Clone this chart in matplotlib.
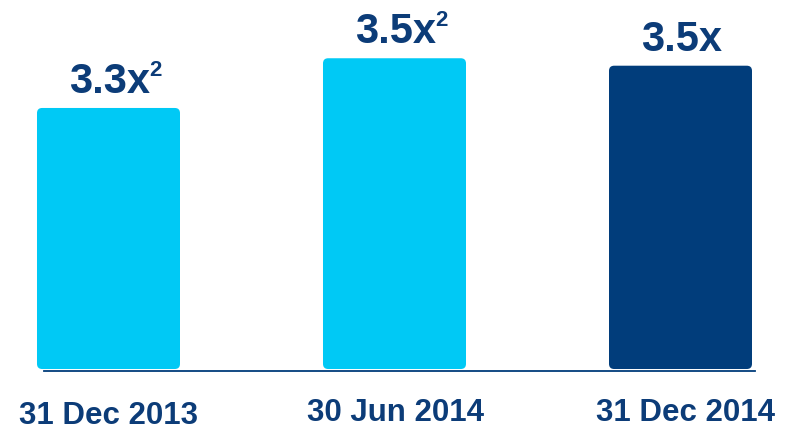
"""
Leverage multiple bar chart: three period-end bars with value labels.
"""

import matplotlib.pyplot as plt
from matplotlib.patches import FancyBboxPatch


PERIODS = ["31 Dec 2013", "30 Jun 2014", "31 Dec 2014"]
VALUE_LABELS = ["3.3x", "3.5x", "3.5x"]
FOOTNOTES = ["2", "2", ""]
BAR_HEIGHTS = [3.30, 3.50, 3.47]

LIGHT = "#00C9F5"
DARK = "#013D7B"
TEXT = "#0C3C78"
BAR_COLORS = [LIGHT, LIGHT, DARK]

plt.rcParams["font.family"] = ["Liberation Sans", "DejaVu Sans"]


def main():
    fig = plt.figure(figsize=(7.9, 4.31), dpi=100)
    ax = fig.add_axes([0.0557, 0.1369, 0.9, 0.841])

    base = 2.25
    x = list(range(len(PERIODS)))
    bars = ax.bar(x, [h - base for h in BAR_HEIGHTS], bottom=base,
                  width=0.5, color=BAR_COLORS)

    # swap plain rectangles for rounded ones of the same size
    for rect, color in zip(bars.patches, BAR_COLORS):
        rounded = FancyBboxPatch(
            (rect.get_x(), rect.get_y()), rect.get_width(), rect.get_height(),
            boxstyle="round,pad=0,rounding_size=0.018",
            mutation_aspect=1.15, facecolor=color, edgecolor="none",
            clip_on=False)
        ax.add_patch(rounded)
        rect.set_visible(False)

    ax.set_xlim(-0.2255, 2.2605)
    ax.set_ylim(2.242, 3.7)

    for xi, h, lab, sup in zip(x, BAR_HEIGHTS, VALUE_LABELS, FOOTNOTES):
        main_txt = ax.annotate(lab, xy=(xi, h), xytext=(0.5, 11.5),
                               textcoords="offset points", ha="center",
                               va="baseline", fontsize=30, fontweight="bold",
                               color=TEXT, annotation_clip=False)
        if sup:
            ax.annotate(sup, xy=(1, 0), xycoords=main_txt, xytext=(0, 19),
                        textcoords="offset points", ha="left",
                        va="baseline", fontsize=16, fontweight="bold",
                        color=TEXT)

    label_offsets = [(0, -44), (1.5, -41), (5, -41)]
    for xi, name, (dx, dy) in zip(x, PERIODS, label_offsets):
        ax.annotate(name, xy=(xi, 0), xycoords=("data", "axes fraction"),
                    xytext=(dx, dy), textcoords="offset pixels",
                    ha="center", va="center", fontsize=22.5,
                    fontweight="bold", color=TEXT, annotation_clip=False)

    for side in ["top", "right", "left"]:
        ax.spines[side].set_visible(False)
    ax.spines["bottom"].set_color(DARK)
    ax.spines["bottom"].set_linewidth(1.3)
    ax.set_xticks([])
    ax.set_yticks([])

    fig.savefig("out.png", dpi=100)
    plt.close(fig)


if __name__ == "__main__":
    main()
